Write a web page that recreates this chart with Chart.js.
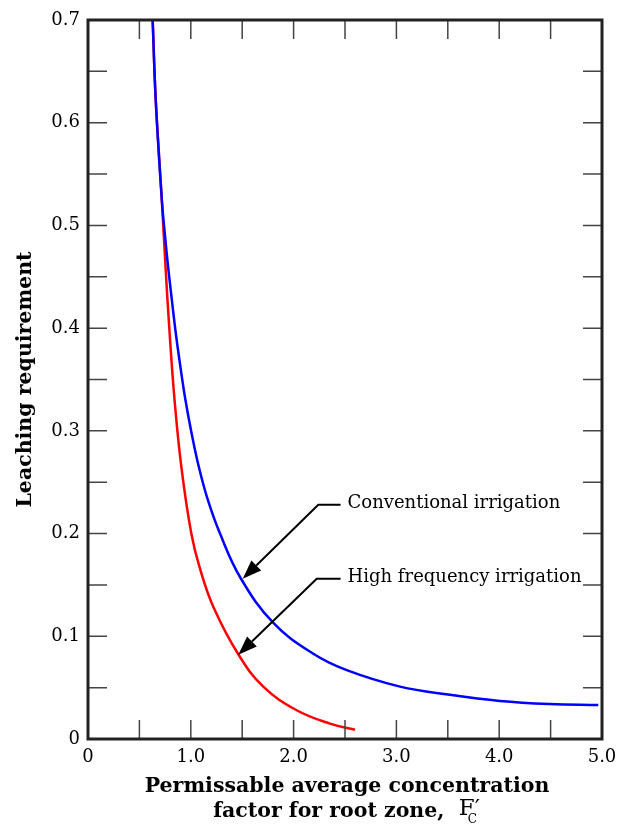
<!DOCTYPE html>
<html>
<head>
<meta charset="utf-8">
<script src="https://cdn.jsdelivr.net/npm/chart.js@4"></script>
<style>
  html, body { margin: 0; padding: 0; background: #fff; }
  #wrap { width: 630px; height: 826px; }
</style>
</head>
<body>
<div id="wrap"><canvas id="myChart"></canvas></div>
<script>
// values
const convX = [0.629, 0.659, 0.718, 0.747, 0.779, 0.815, 0.854, 0.898, 0.948, 1.007, 1.078, 1.165, 1.284, 1.483, 1.803, 2.192, 2.517, 3.035, 3.521, 4.008, 4.494, 4.964];
const convY = [0.700, 0.622, 0.525, 0.492, 0.460, 0.428, 0.395, 0.363, 0.330, 0.298, 0.265, 0.233, 0.200, 0.157, 0.113, 0.083, 0.067, 0.051, 0.043, 0.037, 0.034, 0.033];
const highX = [0.629, 0.659, 0.718, 0.754, 0.794, 0.842, 0.908, 1.005, 1.086, 1.222, 1.465, 1.705, 2.030, 2.354, 2.597];
const highY = [0.700, 0.622, 0.525, 0.460, 0.395, 0.330, 0.265, 0.200, 0.167, 0.128, 0.082, 0.051, 0.028, 0.015, 0.009];
const seriesNames = ['Conventional irrigation', 'High frequency irrigation'];

// arrow callouts (tip, elbow, end of the short horizontal) in data units
const calloutTips = [[1.505, 0.156], [1.462, 0.082]];
const calloutElbows = [[2.240, 0.228], [2.225, 0.156]];
const calloutEndX = 2.457;

const toPoints = (xs, ys) => xs.map((x, i) => ({ x: x, y: ys[i] }));

const serif = '"DejaVu Serif", serif';

const frame = {
  id: 'frame',
  afterDraw(chart) {
    const c = chart.ctx;
    const { left, right, top, bottom } = chart.chartArea;
    const xs = chart.scales.x, ys = chart.scales.y;
    c.save();

    // inner ticks
    c.strokeStyle = '#444';
    c.lineWidth = 1.5;
    c.beginPath();
    xs.ticks.forEach(t => {
      const px = xs.getPixelForValue(t.value);
      c.moveTo(px, bottom); c.lineTo(px, bottom - 19);
      c.moveTo(px, top); c.lineTo(px, top + 19);
    });
    ys.ticks.forEach(t => {
      const py = ys.getPixelForValue(t.value);
      c.moveTo(left, py); c.lineTo(left + 19, py);
      c.moveTo(right, py); c.lineTo(right - 19, py);
    });
    c.stroke();

    // frame
    c.strokeStyle = '#222';
    c.lineWidth = 3;
    c.strokeRect(left, top, right - left, bottom - top);

    // callouts
    c.strokeStyle = '#000';
    c.fillStyle = '#000';
    c.lineWidth = 2;
    calloutTips.forEach((tip, i) => {
      const tx = xs.getPixelForValue(tip[0]), ty = ys.getPixelForValue(tip[1]);
      const ex = xs.getPixelForValue(calloutElbows[i][0]), ey = ys.getPixelForValue(calloutElbows[i][1]);
      const hx = xs.getPixelForValue(calloutEndX);
      const ang = Math.atan2(ty - ey, tx - ex);
      const len = 19, half = 7;
      const bx = tx - len * Math.cos(ang), by = ty - len * Math.sin(ang);
      c.beginPath();
      c.moveTo(hx, ey); c.lineTo(ex, ey); c.lineTo(bx, by);
      c.stroke();
      c.beginPath();
      c.moveTo(tx, ty);
      c.lineTo(bx + half * Math.sin(ang), by - half * Math.cos(ang));
      c.lineTo(bx - half * Math.sin(ang), by + half * Math.cos(ang));
      c.closePath();
      c.fill();
      c.font = '18px ' + serif;
      c.textAlign = 'left';
      c.textBaseline = 'middle';
      c.fillText(seriesNames[i], hx + 7, ey - 1);
    });

    // y title
    c.fillStyle = '#000';
    c.font = 'bold 20.5px ' + serif;
    c.textAlign = 'center';
    c.textBaseline = 'middle';
    c.save();
    c.translate(26, (top + bottom) / 2);
    c.rotate(-Math.PI / 2);
    c.fillText('Leaching requirement', 0, 0);
    c.restore();

    // x title
    const cx = 347;
    c.fillText('Permissable average concentration', cx, 787);
    const part1 = 'factor for root zone,  ';
    const w1 = c.measureText(part1).width;
    c.font = '23px ' + serif;
    const wF = c.measureText('F\u2032').width;
    c.font = '12px ' + serif;
    const wC = c.measureText('C').width;
    const x0 = cx - (w1 + wF + 1) / 2;
    c.textAlign = 'left';
    c.font = 'bold 20.5px ' + serif;
    c.fillText(part1, x0, 812);
    c.font = '23px ' + serif;
    c.fillText('F\u2032', x0 + w1, 809);
    c.font = '12px ' + serif;
    c.fillText('C', x0 + w1 + wF - wC - 3, 820);

    c.restore();
  }
};

const data = {
  datasets: [{
    label: seriesNames[0],
    data: toPoints(convX, convY),
    borderColor: '#0000ff',
    borderWidth: 2.5,
    showLine: true,
    pointRadius: 0,
    tension: 0.4,
  }, {
    label: seriesNames[1],
    data: toPoints(highX, highY),
    borderColor: '#ff0000',
    borderWidth: 2.5,
    showLine: true,
    pointRadius: 0,
    tension: 0.4,
  }]
};

const config = {
  type: 'scatter',
  data: data,
  options: {
    responsive: true,
    maintainAspectRatio: false,
    animation: false,
    layout: { padding: { top: 20, right: 28, left: 0, bottom: 0 } },
    plugins: { legend: { display: false }, tooltip: { enabled: false } },
    scales: {
      x: {
        type: 'linear',
        min: 0, max: 5,
        grid: { display: false, drawTicks: false },
        border: { display: false },
        afterFit(scale) { scale.height = 87; },
        ticks: {
          stepSize: 0.5,
          padding: 8,
          color: '#000',
          font: { family: serif, size: 18 },
          maxRotation: 0,
          autoSkip: false,
          callback: v => Math.abs(v - Math.round(v)) < 1e-6 ? (v === 0 ? '0' : v.toFixed(1)) : ''
        }
      },
      y: {
        type: 'linear',
        min: 0, max: 0.7,
        grid: { display: false, drawTicks: false },
        border: { display: false },
        afterFit(scale) { scale.width = 88; },
        ticks: {
          stepSize: 0.05,
          padding: 8,
          color: '#000',
          font: { family: serif, size: 18 },
          autoSkip: false,
          callback: v => {
            const k = Math.round(v * 100);
            if (k % 10 !== 0) return '';
            return k === 0 ? '0' : (k / 100).toFixed(1);
          }
        }
      }
    }
  },
  plugins: [frame]
};

const myChart = new Chart(document.getElementById('myChart').getContext('2d'), config);
</script>
</body>
</html>
